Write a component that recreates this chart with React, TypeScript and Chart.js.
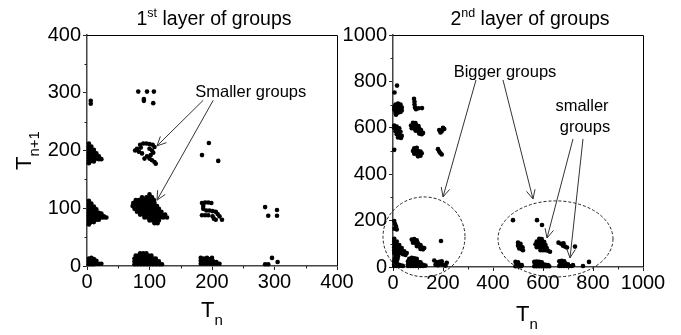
import { useEffect, useRef } from 'react';
import { Chart, registerables } from 'chart.js';

Chart.register(...registerables);

type P = [number, number];

// ---------- 1st layer of groups: (T_n, T_n+1) ----------
const l1Col0Row300: P[] = [[6, 286], [6, 281]];
const l1Col0Row200: P[] = [
  [3, 212], [3, 207], [7, 207], [3, 202], [7, 202], [11, 201], [3, 197], [7, 197], [11, 196], [15, 195],
  [3, 192], [7, 192], [11, 191], [15, 190], [19, 190], [3, 187], [7, 187], [11, 186], [15, 186], [19, 185],
  [23, 185], [3, 182], [7, 182], [11, 181], [3, 178],
];
const l1Col0Row100: P[] = [
  [3, 113], [3, 108], [7, 108], [3, 103], [7, 103], [11, 103], [3, 98], [7, 98], [11, 98], [15, 98],
  [3, 93], [7, 93], [11, 93], [15, 93], [19, 92], [23, 91], [3, 88], [7, 88], [11, 88], [15, 88], [19, 87],
  [23, 87], [27, 86], [3, 84], [7, 84], [11, 84], [15, 84], [19, 84], [23, 84], [27, 84], [31, 84],
  [3, 80], [7, 80], [11, 80], [15, 80], [19, 80], [3, 76], [7, 76], [11, 76], [3, 72],
];
const l1Col0Row0: P[] = [
  [3, 13], [7, 14], [11, 12], [3, 8], [7, 8], [11, 8], [15, 9], [3, 3], [7, 3], [11, 3], [15, 4], [19, 4], [23, 4],
];
const l1Col100Row300: P[] = [[82, 302], [96, 302], [107, 302], [91, 289], [91, 286], [106, 282]];
const l1Col100Row200: P[] = [
  [85, 210], [90, 212], [95, 212], [100, 211], [105, 210], [108, 206], [80, 203], [77, 200], [83, 198],
  [88, 195], [86, 205], [100, 203], [104, 200], [106, 196], [102, 192], [96, 190], [92, 186], [100, 186],
  [104, 183], [108, 180], [110, 177],
];
const l1Col100Row100: P[] = [
  [100, 124], [88, 119], [95, 119], [100, 119], [104, 119],
  [78, 114], [83, 114], [88, 114], [93, 114], [98, 114], [103, 114], [107, 114],
  [74, 109], [79, 109], [84, 109], [89, 109], [94, 109], [99, 109], [104, 109], [108, 109],
  [73, 104], [78, 104], [83, 104], [88, 104], [93, 104], [98, 104], [103, 104], [108, 104], [112, 104],
  [76, 99], [81, 99], [86, 99], [91, 99], [96, 99], [101, 99], [106, 99], [111, 99], [115, 99],
  [80, 94], [85, 94], [90, 94], [95, 94], [100, 94], [105, 94], [110, 94], [115, 94], [119, 94],
  [85, 89], [90, 89], [95, 89], [100, 89], [105, 89], [110, 89], [115, 89], [120, 89], [125, 89],
  [92, 84], [97, 84], [102, 84], [107, 84], [112, 84], [117, 84], [122, 84], [128, 84],
  [100, 79], [105, 79], [110, 79], [115, 79], [108, 74], [113, 74],
];
const l1Col100Row0: P[] = [
  [85, 22], [90, 22], [95, 22], [78, 18], [83, 18], [88, 18], [93, 18], [98, 18], [103, 18],
  [76, 13], [81, 13], [86, 13], [91, 13], [96, 13], [101, 13], [106, 13], [110, 13],
  [76, 8], [81, 8], [86, 8], [91, 8], [96, 8], [101, 8], [106, 8], [111, 8], [115, 8],
  [76, 3], [81, 3], [86, 3], [91, 3], [96, 3], [101, 3], [106, 3], [111, 3], [116, 3], [120, 3],
];
const l1Col200Row200: P[] = [[184, 192], [195, 213], [210, 182]];
const l1Col200Row100: P[] = [
  [184, 109], [189, 110], [194, 110], [199, 109], [186, 104], [186, 99], [191, 96], [196, 96], [201, 95],
  [206, 94], [209, 90], [212, 86], [216, 80], [184, 88], [189, 88], [194, 88], [201, 86], [203, 82], [206, 80],
];
const l1Col200Row0: P[] = [
  [182, 14], [187, 13], [192, 14], [197, 12], [200, 14], [182, 9], [187, 8], [192, 9], [197, 8], [202, 8], [207, 7],
  [182, 4], [187, 4], [192, 4], [197, 4], [202, 4], [207, 4], [212, 4],
];
const l1Col300Row100: P[] = [[285, 102], [290, 87], [304, 97], [304, 87]];
const l1Col300Row0: P[] = [[296, 14], [305, 7], [285, 3], [290, 3]];

// ---------- 2nd layer of groups ----------
const l2Upper: P[] = [
  [16, 782], [6, 752],
  [10, 700], [20, 705], [30, 700], [5, 690], [15, 690], [25, 690], [35, 688], [5, 678], [15, 678], [25, 678],
  [35, 675], [10, 665], [20, 665], [30, 668], [12, 656],
  [84, 725], [86, 712], [86, 700], [88, 688], [92, 680], [102, 684], [116, 685],
];
const l2Middle: P[] = [
  [5, 610], [15, 605], [5, 598], [15, 595], [25, 598], [10, 585], [20, 585], [30, 583], [15, 572], [25, 570],
  [35, 565], [20, 558], [32, 556],
  [80, 622], [90, 620], [72, 610], [82, 610], [92, 610], [102, 608], [75, 598], [85, 598], [95, 598], [105, 597],
  [112, 590], [90, 588], [100, 586], [110, 580], [115, 572], [105, 575], [120, 578],
  [185, 590], [195, 585], [200, 600], [205, 595], [190, 580],
];
const l2Lower: P[] = [
  [5, 505],
  [85, 512], [95, 514], [80, 500], [90, 502], [100, 500], [110, 498], [85, 488], [95, 488], [105, 487],
  [115, 490], [100, 477], [110, 480],
  [180, 508], [185, 498], [190, 490], [195, 485],
];
const l2BigLeft: P[] = [
  [5, 198], [8, 185], [12, 175], [6, 165], [15, 162],
  [5, 122], [5, 110], [15, 110], [5, 98], [15, 98], [25, 95], [5, 85], [15, 85], [25, 85], [35, 82],
  [5, 72], [15, 72], [25, 72], [35, 70], [45, 68], [55, 60], [5, 60], [15, 60], [25, 58], [40, 55], [50, 52],
  [10, 48], [20, 45], [8, 38], [18, 35],
  [75, 118], [85, 120], [95, 115], [80, 105], [90, 105], [100, 102], [110, 95], [95, 90], [105, 88],
  [115, 85], [125, 82], [110, 78], [120, 76],
  [192, 112],
  [5, 25], [15, 22], [5, 12], [15, 12], [25, 10], [35, 6], [5, 4], [15, 4], [25, 4], [40, 4],
  [65, 35], [75, 40], [85, 38], [95, 35], [60, 25], [70, 25], [80, 25], [90, 25], [100, 22], [110, 20],
  [60, 12], [70, 12], [80, 12], [90, 12], [100, 12], [110, 10], [120, 10], [60, 4], [70, 4], [80, 4],
  [90, 4], [100, 4], [110, 4], [120, 4], [130, 6],
  [165, 28], [175, 20], [185, 22], [195, 25], [170, 10], [180, 8], [190, 12], [200, 10], [210, 6], [215, 18],
];
const l2BigRight: P[] = [
  [480, 202], [576, 202], [596, 181],
  [500, 105], [510, 100], [500, 92], [510, 90], [518, 85], [505, 80], [515, 76], [520, 72],
  [585, 122], [595, 120], [575, 110], [585, 110], [595, 110], [605, 108], [570, 98], [580, 98], [590, 98],
  [600, 97], [610, 95], [575, 85], [585, 85], [595, 85], [605, 85], [615, 82], [590, 72], [600, 72],
  [610, 72], [620, 70], [628, 66],
  [662, 105], [672, 100], [682, 102], [680, 92], [688, 88], [696, 84], [728, 88],
  [490, 22], [500, 20], [495, 10], [505, 10], [515, 8], [490, 3], [500, 3], [512, 3],
  [565, 22], [575, 24], [585, 22], [595, 20], [570, 12], [580, 12], [590, 12], [600, 12], [610, 10],
  [620, 8], [565, 3], [575, 3], [585, 3], [595, 3], [605, 3], [615, 3], [625, 3],
  [665, 25], [675, 27], [685, 25], [670, 15], [680, 15], [690, 15], [700, 12], [665, 4], [675, 4],
  [685, 4], [695, 4], [705, 4], [715, 4], [720, 8],
  [760, 4], [784, 22],
];

const FONT = '"Liberation Sans", Arial, Helvetica, sans-serif';
const H = 335;

type Part = { t: string; size: number; dy: number };

function richText(ctx: CanvasRenderingContext2D, parts: Part[], x: number, y: number, center: boolean) {
  const widths = parts.map((p) => {
    ctx.font = `${p.size}px ${FONT}`;
    return ctx.measureText(p.t).width;
  });
  const total = widths.reduce((a, b) => a + b, 0);
  let cx = center ? x - total / 2 : x;
  ctx.textAlign = 'left';
  ctx.textBaseline = 'alphabetic';
  parts.forEach((p, i) => {
    ctx.font = `${p.size}px ${FONT}`;
    ctx.fillText(p.t, cx, y + p.dy);
    cx += widths[i];
  });
}

type Spec = {
  left: number;
  width: number;
  area: { left: number; right: number; top: number; bottom: number };
  max: number;
  step: number;
  groups: P[][];
  title: Part[];
  titleX: number;
  xTitle: { x: number; y: number };
  yTitle?: { x: number; y: number };
  labels: { text: string; x: number; y: number }[];
  arrows: [number, number, number, number][];
  ellipses: [number, number, number, number][];
};

function Panel({ spec }: { spec: Spec }) {
  const ref = useRef<HTMLCanvasElement>(null);

  useEffect(() => {
    const { area, max, step } = spec;

    const decor = {
      id: 'decor',
      afterDraw(chart: any) {
        const ctx: CanvasRenderingContext2D = chart.ctx;
        const xs = chart.scales.x;
        const ys = chart.scales.y;
        const ca = chart.chartArea;
        ctx.save();

        // frame: top and right sides
        ctx.strokeStyle = '#000';
        ctx.lineWidth = 1;
        ctx.beginPath();
        ctx.moveTo(ca.left, ca.top + 0.5);
        ctx.lineTo(ca.right + 0.5, ca.top + 0.5);
        ctx.lineTo(ca.right + 0.5, ca.bottom);
        ctx.stroke();

        // minor ticks halfway between major ticks
        ctx.strokeStyle = '#222';
        ctx.beginPath();
        for (let v = step / 2; v < max; v += step) {
          const px = Math.round(xs.getPixelForValue(v)) + 0.5;
          ctx.moveTo(px, ca.bottom);
          ctx.lineTo(px, ca.bottom + 2.5);
          const py = Math.round(ys.getPixelForValue(v)) + 0.5;
          ctx.moveTo(ca.left, py);
          ctx.lineTo(ca.left - 2.5, py);
        }
        ctx.stroke();

        ctx.fillStyle = '#000';
        richText(ctx, spec.title, spec.titleX, 25, true);
        richText(ctx, [{ t: 'T', size: 22, dy: 0 }, { t: 'n', size: 15, dy: 8 }], spec.xTitle.x, spec.xTitle.y, true);
        if (spec.yTitle) {
          ctx.save();
          ctx.translate(spec.yTitle.x, spec.yTitle.y);
          ctx.rotate(-Math.PI / 2);
          richText(ctx, [{ t: 'T', size: 22, dy: 0 }, { t: 'n+1', size: 15, dy: 8 }], 0, 0, false);
          ctx.restore();
        }

        // annotation labels
        ctx.font = `16.5px ${FONT}`;
        ctx.textAlign = 'center';
        ctx.textBaseline = 'middle';
        spec.labels.forEach((l) => {
          ctx.fillText(l.text, xs.getPixelForValue(l.x), ys.getPixelForValue(l.y));
        });

        // arrows with open heads
        ctx.strokeStyle = '#333';
        ctx.lineWidth = 1;
        spec.arrows.forEach(([x1, y1, x2, y2]) => {
          const ax = xs.getPixelForValue(x1);
          const ay = ys.getPixelForValue(y1);
          const bx = xs.getPixelForValue(x2);
          const by = ys.getPixelForValue(y2);
          const ang = Math.atan2(by - ay, bx - ax);
          const hl = 10;
          ctx.beginPath();
          ctx.moveTo(ax, ay);
          ctx.lineTo(bx, by);
          ctx.moveTo(bx - hl * Math.cos(ang - 0.45), by - hl * Math.sin(ang - 0.45));
          ctx.lineTo(bx, by);
          ctx.lineTo(bx - hl * Math.cos(ang + 0.45), by - hl * Math.sin(ang + 0.45));
          ctx.stroke();
        });

        // dashed group outlines
        ctx.setLineDash([3, 2]);
        ctx.strokeStyle = '#222';
        spec.ellipses.forEach(([cx, cy, rx, ry]) => {
          const px = xs.getPixelForValue(cx);
          const py = ys.getPixelForValue(cy);
          const prx = Math.abs(xs.getPixelForValue(cx + rx) - px);
          const pry = Math.abs(ys.getPixelForValue(cy + ry) - py);
          ctx.beginPath();
          ctx.ellipse(px, py, prx, pry, 0, 0, Math.PI * 2);
          ctx.stroke();
        });
        ctx.restore();
      },
    };

    const axisCommon = (isX: boolean) => ({
      type: 'linear' as const,
      min: 0,
      max,
      ticks: {
        stepSize: step,
        color: '#000',
        font: { family: FONT, size: 20 },
        padding: isX ? 0 : 2,
        maxRotation: 0,
        autoSkip: false,
        callback: (v: number | string) => String(v),
      },
      grid: { drawOnChartArea: false, tickLength: 4, tickColor: '#222', tickWidth: 1 },
      border: { color: '#444', width: 1.5 },
      afterFit: (s: any) => {
        if (isX) s.height = H - area.bottom;
        else s.width = area.left;
      },
    });

    const chart = new Chart(ref.current!, {
      type: 'scatter',
      data: {
        datasets: spec.groups.map((g) => ({
          data: g.map(([x, y]) => ({ x, y })),
          pointRadius: 2.3,
          pointBackgroundColor: '#000',
          pointBorderWidth: 0,
          pointHoverRadius: 2.3,
        })),
      },
      options: {
        responsive: false,
        animation: false,
        events: [],
        clip: false as any,
        layout: { padding: { top: area.top, right: spec.width - area.right, left: 0, bottom: 0 } },
        plugins: { legend: { display: false }, tooltip: { enabled: false }, title: { display: false } },
        scales: { x: axisCommon(true), y: axisCommon(false) } as any,
      },
      plugins: [decor],
    });
    return () => chart.destroy();
  }, [spec]);

  return (
    <canvas
      ref={ref}
      width={spec.width}
      height={H}
      style={{ position: 'absolute', left: spec.left, top: 0 }}
    />
  );
}

const firstLayer: Spec = {
  left: 0,
  width: 362,
  area: { left: 87, right: 337, top: 35, bottom: 266 },
  max: 400,
  step: 100,
  groups: [
    l1Col0Row300, l1Col0Row200, l1Col0Row100, l1Col0Row0,
    l1Col100Row300, l1Col100Row200, l1Col100Row100, l1Col100Row0,
    l1Col200Row200, l1Col200Row100, l1Col200Row0,
    l1Col300Row100, l1Col300Row0,
  ],
  title: [
    { t: '1', size: 19.5, dy: 0 },
    { t: 'st', size: 12.5, dy: -8 },
    { t: ' layer of groups', size: 19.5, dy: 0 },
  ],
  titleX: 214,
  xTitle: { x: 212, y: 317 },
  yTitle: { x: 31, y: 170 },
  labels: [{ text: 'Smaller groups', x: 262, y: 301 }],
  arrows: [
    [186, 287, 112, 208],
    [202, 287, 112, 114],
  ],
  ellipses: [],
};

const secondLayer: Spec = {
  left: 340,
  width: 341,
  area: { left: 53, right: 303, top: 35, bottom: 267 },
  max: 1000,
  step: 200,
  groups: [l2Upper, l2Middle, l2Lower, l2BigLeft, l2BigRight],
  title: [
    { t: '2', size: 19.5, dy: 0 },
    { t: 'nd', size: 12.5, dy: -8 },
    { t: ' layer of groups', size: 19.5, dy: 0 },
  ],
  titleX: 530,
  xTitle: { x: 527, y: 321 },
  labels: [
    { text: 'Bigger groups', x: 448, y: 840 },
    { text: 'smaller', x: 756, y: 690 },
    { text: 'groups', x: 768, y: 603 },
  ],
  arrows: [
    [332, 806, 200, 302],
    [440, 806, 560, 293],
    [720, 552, 616, 125],
    [760, 552, 708, 39],
  ],
  ellipses: [
    [124, 130, 164, 172],
    [650, 121, 230, 164],
  ],
};

export default function App() {
  return (
    <div style={{ position: 'fixed', left: 0, top: 0, width: 681, height: 335, background: '#fff', overflow: 'hidden' }}>
      <Panel spec={firstLayer} />
      <Panel spec={{ ...secondLayer, titleX: secondLayer.titleX - secondLayer.left, xTitle: { x: secondLayer.xTitle.x - secondLayer.left, y: secondLayer.xTitle.y } }} />
    </div>
  );
}
